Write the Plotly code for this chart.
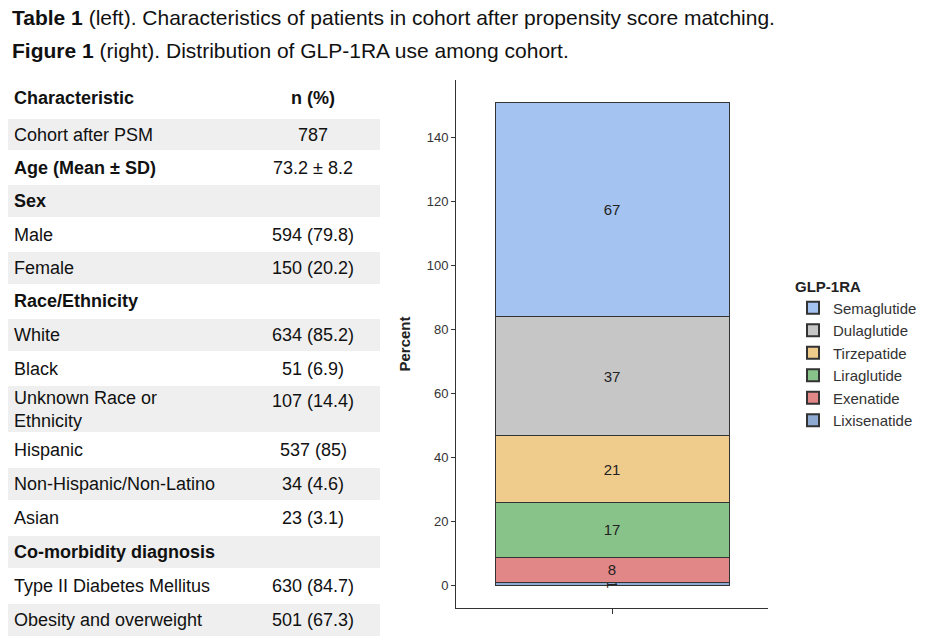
import plotly.graph_objects as go

drugs = ["Lixisenatide", "Exenatide", "Liraglutide", "Tirzepatide", "Dulaglutide", "Semaglutide"]
percents = [1, 8, 17, 21, 37, 67]
colors = ["#8eaad2", "#e28787", "#88c48a", "#efcb8c", "#c6c6c6", "#a4c3f0"]

characteristics = ["Cohort after PSM", "Age (Mean ± SD)", "Sex", "Male", "Female", "Race/Ethnicity",
                   "White", "Black", "Unknown Race or<br>Ethnicity", "Hispanic", "Non-Hispanic/Non-Latino",
                   "Asian", "Co-morbidity diagnosis", "Type II Diabetes Mellitus", "Obesity and overweight"]
values = ["787", "73.2 ± 8.2", "", "594 (79.8)", "150 (20.2)", "", "634 (85.2)", "51 (6.9)",
          "107 (14.4)", "537 (85)", "34 (4.6)", "23 (3.1)", "", "630 (84.7)", "501 (67.3)"]
bold_rows = [1, 2, 5, 12]
row_edges = [118, 151, 184, 218, 251, 285, 318, 352, 385, 433, 467, 501, 535, 569, 603, 637]

fig = go.Figure()
for d, p, c in zip(drugs, percents, colors):
    fig.add_trace(go.Bar(x=[1], y=[p], name=d, marker=dict(color=c, line=dict(color="#333", width=1)),
                         width=0.9, text=[str(p)], textposition="inside", insidetextanchor="middle",
                         textfont=dict(size=15, color="#222"), hoverinfo="skip"))

OFF = 8
W, H = 936 - OFF, 640 - OFF
def px(x): return (x - OFF) / W
def py(y): return 1 - (y - OFF) / H

shapes, anns = [], []
F = "Liberation Sans, Arial, sans-serif"
anns.append(dict(x=px(10), y=py(18), xref="paper", yref="paper", xanchor="left", yanchor="middle", showarrow=False,
                 text="<b>Table 1</b> (left). Characteristics of patients in cohort after propensity score matching.",
                 font=dict(size=21, color="#111", family=F)))
anns.append(dict(x=px(10), y=py(50), xref="paper", yref="paper", xanchor="left", yanchor="middle", showarrow=False,
                 text="<b>Figure 1</b> (right). Distribution of GLP-1RA use among cohort.",
                 font=dict(size=21, color="#111", family=F)))
anns.append(dict(x=px(12), y=py(98), xref="paper", yref="paper", xanchor="left", yanchor="middle", showarrow=False,
                 text="<b>Characteristic</b>", font=dict(size=18, color="#111", family=F)))
anns.append(dict(x=px(313), y=py(98), xref="paper", yref="paper", xanchor="center", yanchor="middle", showarrow=False,
                 text="<b>n (%)</b>", font=dict(size=18, color="#111", family=F)))
for i, (ch, v) in enumerate(zip(characteristics, values)):
    y0, y1 = row_edges[i], row_edges[i + 1]
    if i % 2 == 0:
        shapes.append(dict(type="rect", xref="paper", yref="paper", x0=px(5), x1=px(380), y0=py(y0 + 1), y1=py(y1 - 1),
                           fillcolor="#efefef", line=dict(width=0), layer="below"))
    yc = (y0 + y1) / 2
    t = f"<b>{ch}</b>" if i in bold_rows else ch
    anns.append(dict(x=px(12), y=py(yc), xref="paper", yref="paper", xanchor="left", yanchor="middle", showarrow=False,
                     text=t, align="left", font=dict(size=18, color="#111", family=F)))
    if v:
        anns.append(dict(x=px(313), y=py(y0 + 16 if "<br>" in ch else yc), xref="paper", yref="paper",
                         xanchor="center", yanchor="middle", showarrow=False, text=v,
                         font=dict(size=18, color="#111", family=F)))

fig.update_layout(
    width=W, height=H, margin=dict(l=0, r=0, t=0, b=0), barmode="stack",
    plot_bgcolor="white", paper_bgcolor="white", font=dict(family=F),
    xaxis=dict(domain=[px(456), px(768)], range=[0.4, 1.6], tickvals=[1], ticktext=[""], ticks="outside",
               ticklen=5, tickcolor="#333", showline=True, linecolor="#333", showgrid=False, zeroline=False),
    yaxis=dict(domain=[py(608), py(80)], range=[-6.9, 158], tickvals=[0, 20, 40, 60, 80, 100, 120, 140],
               ticks="outside", ticklen=4, tickcolor="#333", showline=True, linecolor="#333", showgrid=False,
               zeroline=False, tickfont=dict(size=13, color="#333"),
               title=dict(text="<b>Percent</b>", font=dict(size=15, color="#222"), standoff=12)),
    legend=dict(x=px(793), y=py(272), xanchor="left", yanchor="top", traceorder="reversed",
                title=dict(text="<b>GLP-1RA</b>", font=dict(size=15, color="#222")),
                font=dict(size=15, color="#333"), tracegroupgap=0, itemsizing="constant"),
    uniformtext=dict(minsize=15, mode="show"),
    shapes=shapes, annotations=anns,
)
fig.write_html("out.html")
